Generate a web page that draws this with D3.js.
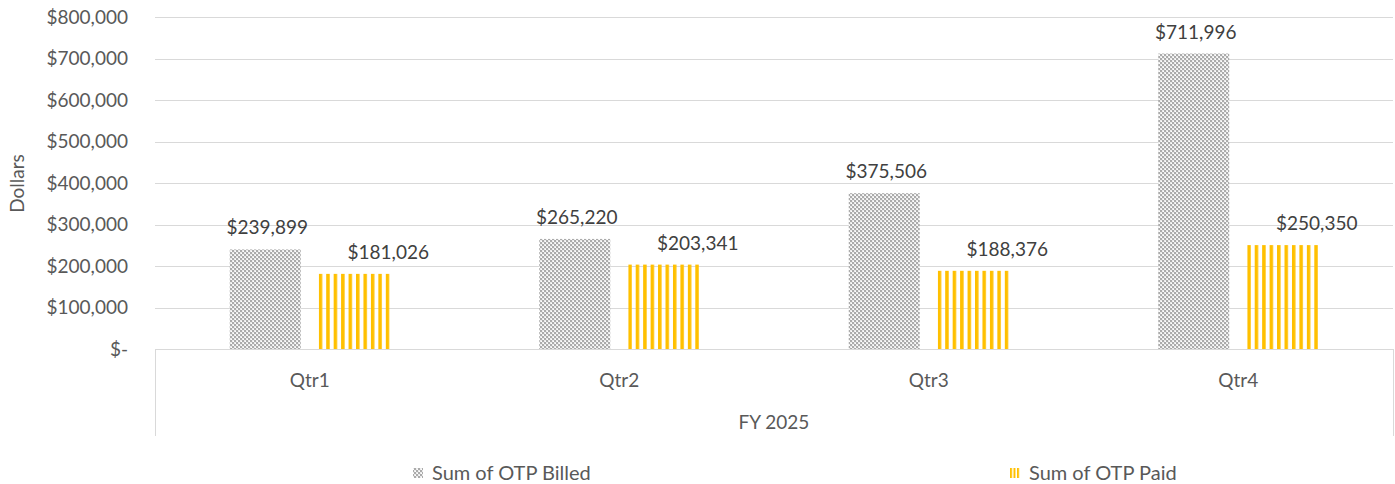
<!DOCTYPE html>
<html>
<head>
<meta charset="utf-8">
<script src="https://cdn.jsdelivr.net/npm/d3@7"></script>
<style>
  html, body { margin: 0; padding: 0; background: #fff; }
  svg { display: block; }
  text { font-family: Lato, "Open Sans", sans-serif; }
</style>
</head>
<body>
<div id="chart"></div>
<script>
// ---- data ----
const categories = ["Qtr1", "Qtr2", "Qtr3", "Qtr4"];
const groupLabel = "FY 2025";
const seriesNames = ["Sum of OTP Billed", "Sum of OTP Paid"];
const billed = [239899, 265220, 375506, 711996];
const paid = [181026, 203341, 188376, 250350];
const yTicks = [0, 100000, 200000, 300000, 400000, 500000, 600000, 700000, 800000];
const yTitle = "Dollars";

// ---- layout ----
const W = 1395, H = 484;
const plot = { left: 155, right: 1393, top: 17, bottom: 349 };
const fontSize = 19;

const svg = d3.select("#chart").append("svg").attr("width", W).attr("height", H);

// patterns
const defs = svg.append("defs");
const chk = defs.append("pattern").attr("id", "pBilled")
  .attr("patternUnits", "userSpaceOnUse").attr("width", 4).attr("height", 4);
chk.append("rect").attr("width", 4).attr("height", 4).attr("fill", "#ababab");
chk.append("rect").attr("x", 0).attr("y", 0).attr("width", 2).attr("height", 2).attr("fill", "#ebebeb");
chk.append("rect").attr("x", 2).attr("y", 2).attr("width", 2).attr("height", 2).attr("fill", "#ebebeb");
chk.append("rect").attr("x", 1).attr("y", 1).attr("width", 1).attr("height", 1).attr("fill", "#ffffff");
chk.append("rect").attr("x", 3).attr("y", 3).attr("width", 1).attr("height", 1).attr("fill", "#ffffff");

let stripeId = 0;
function stripePattern(x0pos, period, sw) {
  const id = "pPaid" + (stripeId++);
  const p = defs.append("pattern").attr("id", id)
    .attr("patternUnits", "userSpaceOnUse")
    .attr("x", x0pos).attr("y", 0).attr("width", period).attr("height", H);
  p.append("rect").attr("x", 0).attr("y", 0).attr("width", sw).attr("height", H).attr("fill", "#FFC000");
  return "url(#" + id + ")";
}

// scales
const x0 = d3.scaleBand().domain(categories).range([plot.left, plot.right]).padding(0);
const groupW = 160;
const x1 = d3.scaleBand().domain(seriesNames)
  .range([(x0.bandwidth() - groupW) / 2, (x0.bandwidth() + groupW) / 2])
  .paddingInner(18 / 89).paddingOuter(0);
const y = d3.scaleLinear().domain([0, 800000]).range([plot.bottom, plot.top]);

// gridlines
svg.append("g").selectAll("line").data(yTicks).join("line")
  .attr("x1", plot.left).attr("x2", plot.right)
  .attr("y1", d => Math.round(y(d)) + 0.5).attr("y2", d => Math.round(y(d)) + 0.5)
  .attr("stroke", "#d9d9d9").attr("stroke-width", 1);

// y axis labels
const fmt = d3.format(",");
svg.append("g").selectAll("text").data(yTicks).join("text")
  .attr("x", 128).attr("y", d => y(d))
  .attr("dy", "0.36em")
  .attr("text-anchor", "end")
  .attr("font-size", fontSize).attr("fill", "#595959")
  .text(d => d === 0 ? "$-" : "$" + fmt(d));

// y title
svg.append("text")
  .attr("transform", `translate(24,${(plot.top + plot.bottom) / 2 + 0.5}) rotate(-90)`)
  .attr("text-anchor", "middle").attr("font-size", fontSize).attr("fill", "#595959")
  .text(yTitle);

// category box lines
const boxBottom = 436;
[plot.left, plot.right].forEach(xv => {
  svg.append("line").attr("x1", xv + 0.5).attr("x2", xv + 0.5)
    .attr("y1", plot.bottom).attr("y2", boxBottom)
    .attr("stroke", "#d9d9d9").attr("stroke-width", 1);
});

// category labels
svg.append("g").selectAll("text").data(categories).join("text")
  .attr("x", d => x0(d) + x0.bandwidth() / 2).attr("y", 387)
  .attr("text-anchor", "middle").attr("font-size", fontSize).attr("fill", "#595959")
  .text(d => d);
svg.append("text").attr("x", (plot.left + plot.right) / 2).attr("y", 429)
  .attr("text-anchor", "middle").attr("font-size", fontSize).attr("fill", "#595959")
  .text(groupLabel);

// bars
const seriesData = [billed, paid];
const labelDx = [2, 34];
seriesNames.forEach((s, si) => {
  const g = svg.append("g");
  const rows = categories.map((c, i) => ({ c, v: seriesData[si][i] }));
  g.selectAll("rect").data(rows).join("rect")
    .attr("x", d => x0(d.c) + x1(s))
    .attr("y", d => y(d.v))
    .attr("width", x1.bandwidth())
    .attr("height", d => y(0) - y(d.v))
    .attr("fill", d => si === 0 ? "url(#pBilled)"
      : stripePattern(x0(d.c) + x1(s), (x1.bandwidth() + 3.5) / 10, 3.5));
  g.selectAll("text").data(rows).join("text")
    .attr("x", d => x0(d.c) + x1(s) + x1.bandwidth() / 2 + labelDx[si])
    .attr("y", d => y(d.v) - 15)
    .attr("text-anchor", "middle").attr("font-size", fontSize).attr("fill", "#404040")
    .text(d => "$" + fmt(d.v));
});

// legend
const legendItems = [
  { name: seriesNames[0], x: 413 },
  { name: seriesNames[1], x: 1010 }
];
legendItems.forEach((it, i) => {
  svg.append("rect").attr("x", it.x).attr("y", 468).attr("width", 10).attr("height", 10)
    .attr("fill", i === 0 ? "url(#pBilled)" : stripePattern(it.x, 3.5, 2));
  svg.append("text").attr("x", it.x + 19).attr("y", 480)
    .attr("font-size", 20).attr("fill", "#595959").text(it.name);
});
</script>
</body>
</html>
